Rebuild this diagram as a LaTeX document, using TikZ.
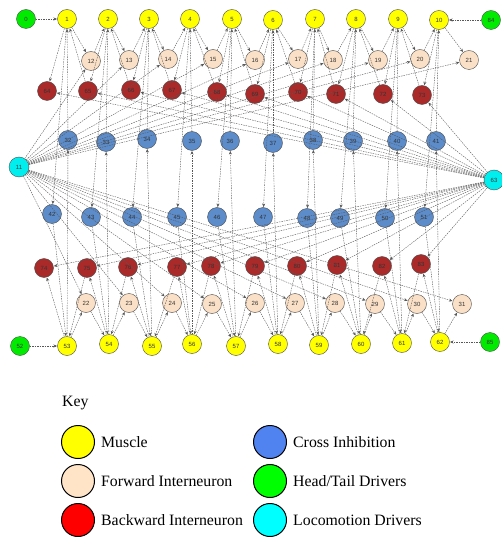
\documentclass[tikz,border=0pt]{standalone}
\usepackage{fontspec}
\setmainfont{Liberation Serif}
\newfontfamily\numfont{Liberation Sans}
\usetikzlibrary{arrows.meta}
\definecolor{musc}{RGB}{255,255,0}
\definecolor{fwd}{RGB}{250,224,198}
\definecolor{bwd}{RGB}{170,42,42}
\definecolor{cross}{RGB}{92,140,202}
\definecolor{drive}{RGB}{0,235,0}
\definecolor{loco}{RGB}{0,238,238}
\definecolor{lnk}{RGB}{88,88,88}
\definecolor{keyblue}{RGB}{80,130,240}
\definecolor{keyfwd}{RGB}{255,228,200}
\definecolor{keyred}{RGB}{255,0,0}
\definecolor{keygreen}{RGB}{0,255,0}
\definecolor{keycyan}{RGB}{0,255,255}

\begin{document}
\begin{tikzpicture}[x=1pt,y=-1pt,
    cell/.style={circle,draw=black!70,line width=0.4pt,minimum size=19pt,
        inner sep=0pt,font=\numfont\fontsize{6}{6}\selectfont,text=black!80},
    muscle/.style={cell,fill=musc},
    fwdint/.style={cell,fill=fwd},
    bwdint/.style={cell,fill=bwd},
    inhib/.style={cell,fill=cross},
    driver/.style={cell,fill=drive},
    locom/.style={cell,fill=loco,minimum size=20pt},
    link/.style={lnk,line width=0.4pt,dash pattern=on 1.5pt off 1pt,
        -{Stealth[length=3.5pt,width=3pt]},shorten >=0.3pt},
    keydot/.style={circle,draw=black,line width=1pt,minimum size=33pt,inner sep=0pt},
    keytext/.style={anchor=west,inner sep=0pt,font=\fontsize{15.8}{18}\selectfont}]
    \useasboundingbox (0,0) rectangle (501,537);

    % muscles
    \foreach \n/\x/\y in {1/67/19,2/108/19,3/149/19,4/190/19,5/232/19,
        6/273/20,7/315/19,8/356/19,9/398/19,10/439/20,
        53/67/346,54/109/344,55/152/346,56/192/344,57/236/346,
        58/278/344,59/319/345,60/361/344,61/402/343,62/440/342}
        \node[muscle] (n\n) at (\x,\y) {\n};
    % forward interneurons
    \foreach \n/\x/\y in {12/91/61,13/129/60,14/168/59,15/213/59,16/255/60,
        17/298/59,18/333/60,19/378/60,20/420/59,21/469/60,
        22/86/303,23/129/303,24/172/303,25/212/304,26/255/303,
        27/295/303,28/335/303,29/375/304,30/417/304,31/462/304}
        \node[fwdint] (n\n) at (\x,\y) {\n};
    % backward interneurons
    \foreach \n/\x/\y in {64/47/91,65/88/91,66/131/90,67/172/90,68/217/92,
        69/255/94,70/298/92,71/336/94,72/383/94,73/422/95,
        74/44/268,75/87/268,76/128/267,77/177/267,78/211/266,
        79/255/266,80/297/266,81/337/265,82/382/266,83/421/264}
        \node[bwdint] (n\n) at (\x,\y) {\n};
    % cross inhibition
    \foreach \n/\x/\y in {32/68/140,33/106/142,34/147/139,35/192/141,36/230/141,
        37/273/143,38/313/140,39/353/141,40/397/141,41/436/141,
        42/52/214,43/91/217,44/132/217,45/177/217,46/217/217,
        47/263/217,48/307/218,49/340/218,50/385/218,51/424/217}
        \node[inhib] (n\n) at (\x,\y) {\n};
    % head/tail and locomotion drivers
    \node[driver] (n0) at (26,19) {0};
    \node[driver] (n84) at (491,20) {84};
    \node[driver] (n52) at (20,346) {52};
    \node[driver] (n85) at (490,342) {85};
    \node[locom] (n11) at (19,167) {11};
    \node[locom] (n63) at (494,180) {63};

    \draw[link] (n0) -- (n1);
    \draw[link] (n84) -- (n10);
    \draw[link] (n52) -- (n53);
    \draw[link] (n85) -- (n62);

    \foreach \i [evaluate=\i as \fa using int(11+\i),
                 evaluate=\i as \ba using int(63+\i),
                 evaluate=\i as \ca using int(31+\i),
                 evaluate=\i as \cb using int(41+\i),
                 evaluate=\i as \v using int(52+\i),
                 evaluate=\i as \fb using int(21+\i),
                 evaluate=\i as \bb using int(73+\i)] in {1,...,10} {
        \draw[link] (n\i) -- (n\fa);
        \draw[link] (n\i) -- (n\ba);
        \draw[link] (n\i) -- (n\cb);
        \draw[link] (n\cb) -- (n\v);
        \draw[link] (n\v) -- (n\ca);
        \draw[link] (n\ca) -- (n\i);
        \draw[link] (n\v) -- (n\fb);
        \draw[link] (n\v) -- (n\bb);
        \draw[link] (n11) -- (n\fa);
        \draw[link] (n11) -- (n\fb);
        \draw[link] (n63) -- (n\ba);
        \draw[link] (n63) -- (n\bb);
    }
    \foreach \i [evaluate=\i as \fa using int(11+\i),
                 evaluate=\i as \nx using int(1+\i),
                 evaluate=\i as \fb using int(21+\i),
                 evaluate=\i as \nv using int(53+\i),
                 evaluate=\i as \ba using int(64+\i),
                 evaluate=\i as \bb using int(74+\i),
                 evaluate=\i as \v using int(52+\i)] in {1,...,9} {
        \draw[link] (n\fa) -- (n\nx);
        \draw[link] (n\fb) -- (n\nv);
        \draw[link] (n\ba) -- (n\i);
        \draw[link] (n\bb) -- (n\v);
    }

    % key
    \node[keytext] (key) at (62,403) {Key};
    \node[keydot,fill=musc] (kmus) at (78,442) {};
    \node[keydot,fill=keyfwd] (kfwd) at (78,481) {};
    \node[keydot,fill=keyred] (kbwd) at (78,520) {};
    \node[keydot,fill=keyblue] (kinh) at (270,442) {};
    \node[keydot,fill=keygreen] (kdrv) at (270,481) {};
    \node[keydot,fill=keycyan] (kloc) at (270,520) {};
    \node[keytext] (lmus) at (101,442) {Muscle};
    \node[keytext] (lfwd) at (101,481) {Forward Interneuron};
    \node[keytext] (lbwd) at (101,520) {Backward Interneuron};
    \node[keytext] (linh) at (293,442) {Cross Inhibition};
    \node[keytext] (ldrv) at (293,481) {Head/Tail Drivers};
    \node[keytext] (lloc) at (293,520) {Locomotion Drivers};
\end{tikzpicture}
\end{document}
